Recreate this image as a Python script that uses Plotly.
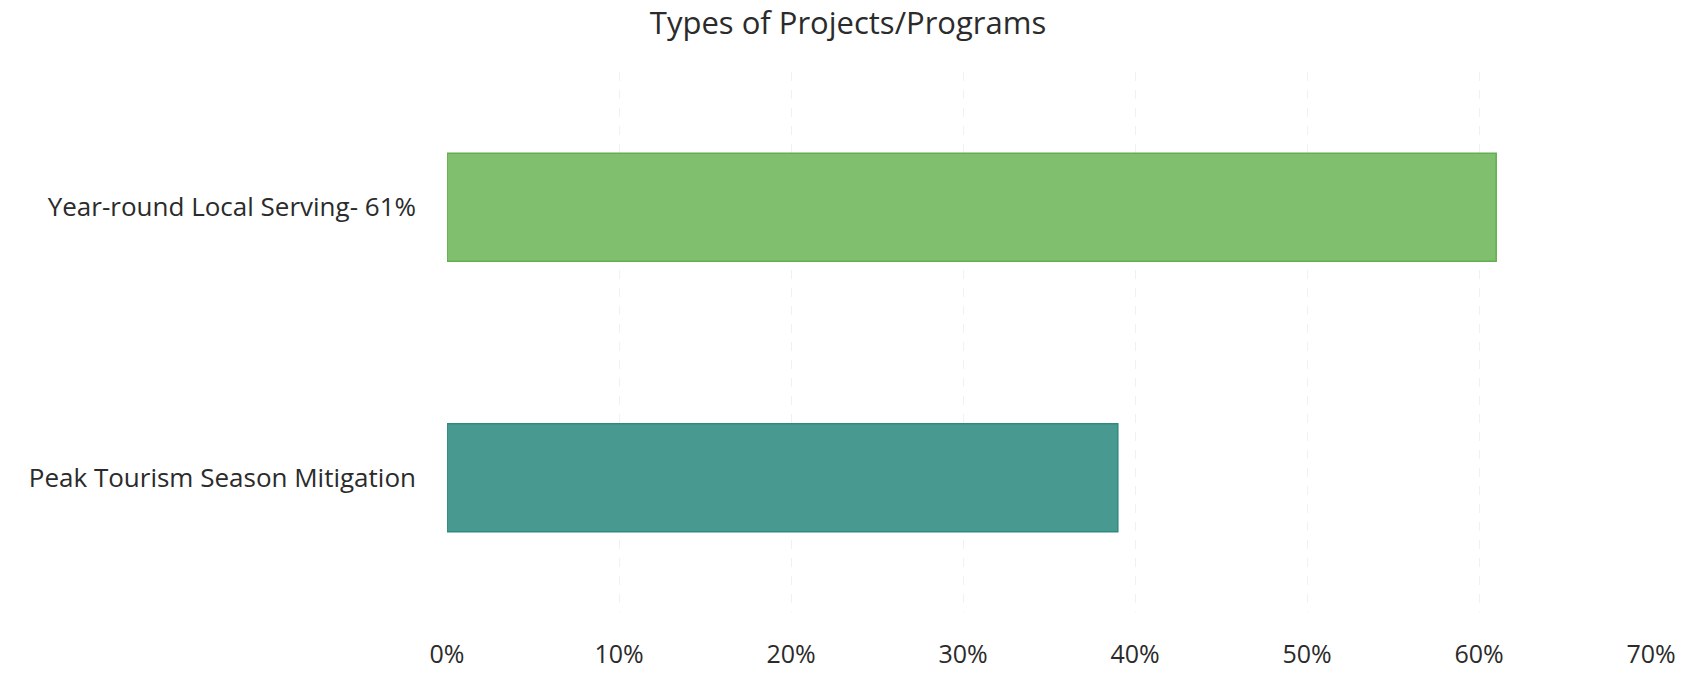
import plotly.graph_objects as go

# Project/program types and their share of all projects
categories = ["Year-round Local Serving- 61%", "Peak Tourism Season Mitigation"]
shares = [0.61, 0.39]
bar_colors = ["#80bf6e", "#489a91"]
edge_colors = ["#63ae52", "#2e8a80"]
tick_values = [0, 0.1, 0.2, 0.3, 0.4, 0.5, 0.6, 0.7]
tick_labels = ["0%", "10%", "20%", "30%", "40%", "50%", "60%", "70%"]

FONT = "Open Sans, Noto Sans, sans-serif"
TEXT = "#2b2b2b"

fig = go.Figure(
    go.Bar(
        x=shares,
        y=categories,
        orientation="h",
        width=0.4,
        marker=dict(color=bar_colors, line=dict(color=edge_colors, width=1.5)),
        hoverinfo="skip",
    )
)

fig.update_layout(
    width=1696,
    height=673,
    paper_bgcolor="white",
    plot_bgcolor="white",
    margin=dict(l=447, r=45, t=72, b=60),
    showlegend=False,
    title=dict(
        text="Types of Projects/Programs",
        x=0.5,
        xanchor="center",
        y=0.965,
        yanchor="middle",
        font=dict(family=FONT, size=31, color=TEXT),
    ),
    font=dict(family=FONT, color=TEXT),
)

fig.update_xaxes(
    range=[0, 0.7],
    tickvals=tick_values,
    ticktext=tick_labels,
    tickfont=dict(size=25, color=TEXT),
    showgrid=True,
    gridcolor="#f1f1f1",
    griddash="dash",
    gridwidth=1,
    zeroline=False,
    showline=False,
    ticks="",
    ticklabelstandoff=24,
    automargin=False,
)

fig.update_yaxes(
    autorange="reversed",
    tickfont=dict(size=26, color=TEXT),
    showgrid=False,
    showline=False,
    ticks="",
    ticklabelstandoff=30,
    automargin=False,
)

fig.write_html("out.html")
